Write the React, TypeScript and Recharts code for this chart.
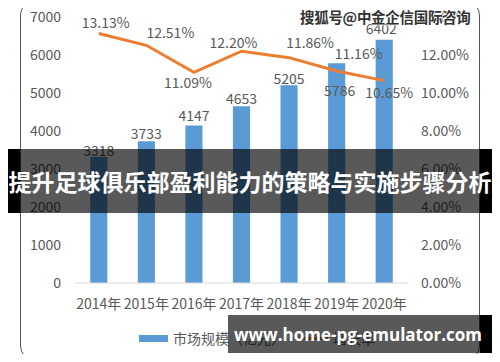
import { Bar, ComposedChart, LabelList, Legend, Line, XAxis, YAxis } from 'recharts'

const years = ['2014年', '2015年', '2016年', '2017年', '2018年', '2019年', '2020年']
const marketSize = [3318, 3733, 4147, 4653, 5205, 5786, 6402]
const growthRate = [13.13, 12.51, 11.09, 12.2, 11.86, 11.16, 10.65]
const sizeTicks = [0, 1000, 2000, 3000, 4000, 5000, 6000, 7000]
const rateTicks = [0, 2, 4, 6, 8, 10, 12, 14]

const data = years.map((year, i) => ({
  year,
  size: marketSize[i],
  rate: growthRate[i],
}))

// hand-placed label nudges, like the original Excel chart
const barLabelDy = [-7, -8, -10, -8, -7, 27, -12]
const barLabelDx = [0, 0, 0, 0, 0, 3, -3]
const lineLabelShift = [
  [7, -12],
  [24, -13],
  [-6, 10],
  [-8, -9],
  [21, -16],
  [22, -18],
  [5, 11],
]

const FONT = '"Noto Sans CJK SC", "Noto Sans", sans-serif'
const TEXT = '#595959'
const BLUE = '#5B9BD5'
const ORANGE = '#ED7D31'

function BarValue(props: any) {
  const { x, y, width, value, index } = props
  return (
    <text
      x={x + width / 2 + barLabelDx[index]}
      y={y + barLabelDy[index]}
      textAnchor="middle"
      dominantBaseline="central"
      fill={TEXT}
      fontSize={14}
      fontFamily={FONT}
    >
      {value}
    </text>
  )
}

function RateValue(props: any) {
  const { x, y, value, index } = props
  const [dx, dy] = lineLabelShift[index]
  return (
    <text
      x={x + dx}
      y={y + dy}
      textAnchor="middle"
      dominantBaseline="central"
      fill={TEXT}
      fontSize={14}
      fontFamily={FONT}
    >
      {Number(value).toFixed(2)}%
    </text>
  )
}

function LegendContent() {
  return (
    <div
      style={{
        height: 20,
        display: 'flex',
        justifyContent: 'center',
        alignItems: 'center',
        fontFamily: FONT,
        fontSize: 14,
        color: TEXT,
        paddingLeft: 14,
      }}
    >
      <span style={{ width: 29, height: 7, background: BLUE, marginRight: 5 }} />
      <span style={{ marginRight: 14 }}>市场规模（亿元）</span>
      <span style={{ width: 29, height: 3, background: ORANGE, marginRight: 5 }} />
      <span>增长率</span>
    </div>
  )
}

export default function App() {
  return (
    <div style={{ position: 'relative', width: 500, height: 362, margin: -8, background: '#fff', overflow: 'hidden' }}>
      <div
        style={{
          position: 'absolute',
          left: 20,
          top: 1,
          width: 460,
          height: 359,
          boxSizing: 'border-box',
          border: '1.5px solid #555',
          borderRadius: 14,
        }}
      />
      <ComposedChart
        width={500}
        height={362}
        data={data}
        margin={{ top: 17, right: 0, bottom: 14, left: 0 }}
        barCategoryGap="68%"
      >
        <XAxis
          dataKey="year"
          tickLine={false}
          tickSize={0}
          tickMargin={16}
          height={45}
          axisLine={{ stroke: '#D9D9D9' }}
          tick={{ fill: TEXT, fontSize: 14, fontFamily: FONT }}
          interval={0}
        />
        <YAxis
          yAxisId="size"
          width={75}
          domain={[0, 7000]}
          ticks={sizeTicks}
          axisLine={false}
          tickLine={false}
          tickSize={0}
          tickMargin={14}
          tick={{ fill: TEXT, fontSize: 14, fontFamily: FONT }}
        />
        <YAxis
          yAxisId="rate"
          orientation="right"
          width={92}
          domain={[0, 14]}
          ticks={rateTicks}
          axisLine={false}
          tickLine={false}
          tickSize={0}
          tickMargin={13}
          tickFormatter={(v) => `${Number(v).toFixed(2)}%`}
          tick={{ fill: TEXT, fontSize: 14, fontFamily: FONT, textAnchor: 'start' }}
        />
        <Legend verticalAlign="bottom" content={<LegendContent />} />
        <Bar yAxisId="size" dataKey="size" name="市场规模（亿元）" fill={BLUE} isAnimationActive={false}>
          <LabelList dataKey="size" content={<BarValue />} />
        </Bar>
        <Line
          yAxisId="rate"
          dataKey="rate"
          name="增长率"
          stroke={ORANGE}
          strokeWidth={3}
          dot={false}
          isAnimationActive={false}
        >
          <LabelList dataKey="rate" content={<RateValue />} />
        </Line>
      </ComposedChart>

      {/* top-right source watermark */}
      <div
        style={{
          position: 'absolute',
          left: 300,
          top: 6,
          fontFamily: FONT,
          fontSize: 14.5,
          fontWeight: 700,
          letterSpacing: -0.3,
          color: '#333',
          textShadow: '0 0 2px #fff, 0 0 2px #fff, 0 0 3px #fff',
          whiteSpace: 'nowrap',
        }}
      >
        搜狐号@中金企信国际咨询
      </div>

      {/* title banner */}
      <div style={{ position: 'absolute', left: 8, top: 149, width: 12, height: 64, background: '#000' }} />
      <div style={{ position: 'absolute', left: 480, top: 149, width: 12, height: 64, background: '#000' }} />
      <div
        style={{
          position: 'absolute',
          left: 20,
          top: 149,
          width: 460,
          height: 64,
          background: 'rgba(0,0,0,0.65)',
        }}
      />
      <div
        style={{
          position: 'absolute',
          left: 0,
          top: 149,
          width: 500,
          height: 64,
          display: 'flex',
          alignItems: 'center',
          justifyContent: 'center',
          fontFamily: FONT,
          fontWeight: 700,
          fontSize: 23,
          color: '#fff',
          whiteSpace: 'nowrap',
        }}
      >
        提升足球俱乐部盈利能力的策略与实施步骤分析
      </div>

      {/* bottom url watermark */}
      <div style={{ position: 'absolute', left: 480, top: 315, width: 12, height: 38, background: '#000' }} />
      <div
        style={{
          position: 'absolute',
          left: 228,
          top: 315,
          width: 252,
          height: 38,
          background: 'rgba(0,0,0,0.65)',
          color: '#fff',
          fontFamily: '"Open Sans", "Noto Sans", sans-serif',
          fontWeight: 700,
          fontSize: 17,
          display: 'flex',
          alignItems: 'center',
          paddingLeft: 6,
          boxSizing: 'border-box',
          whiteSpace: 'nowrap',
        }}
      >
        www.home-pg-emulator.com
      </div>
    </div>
  )
}
